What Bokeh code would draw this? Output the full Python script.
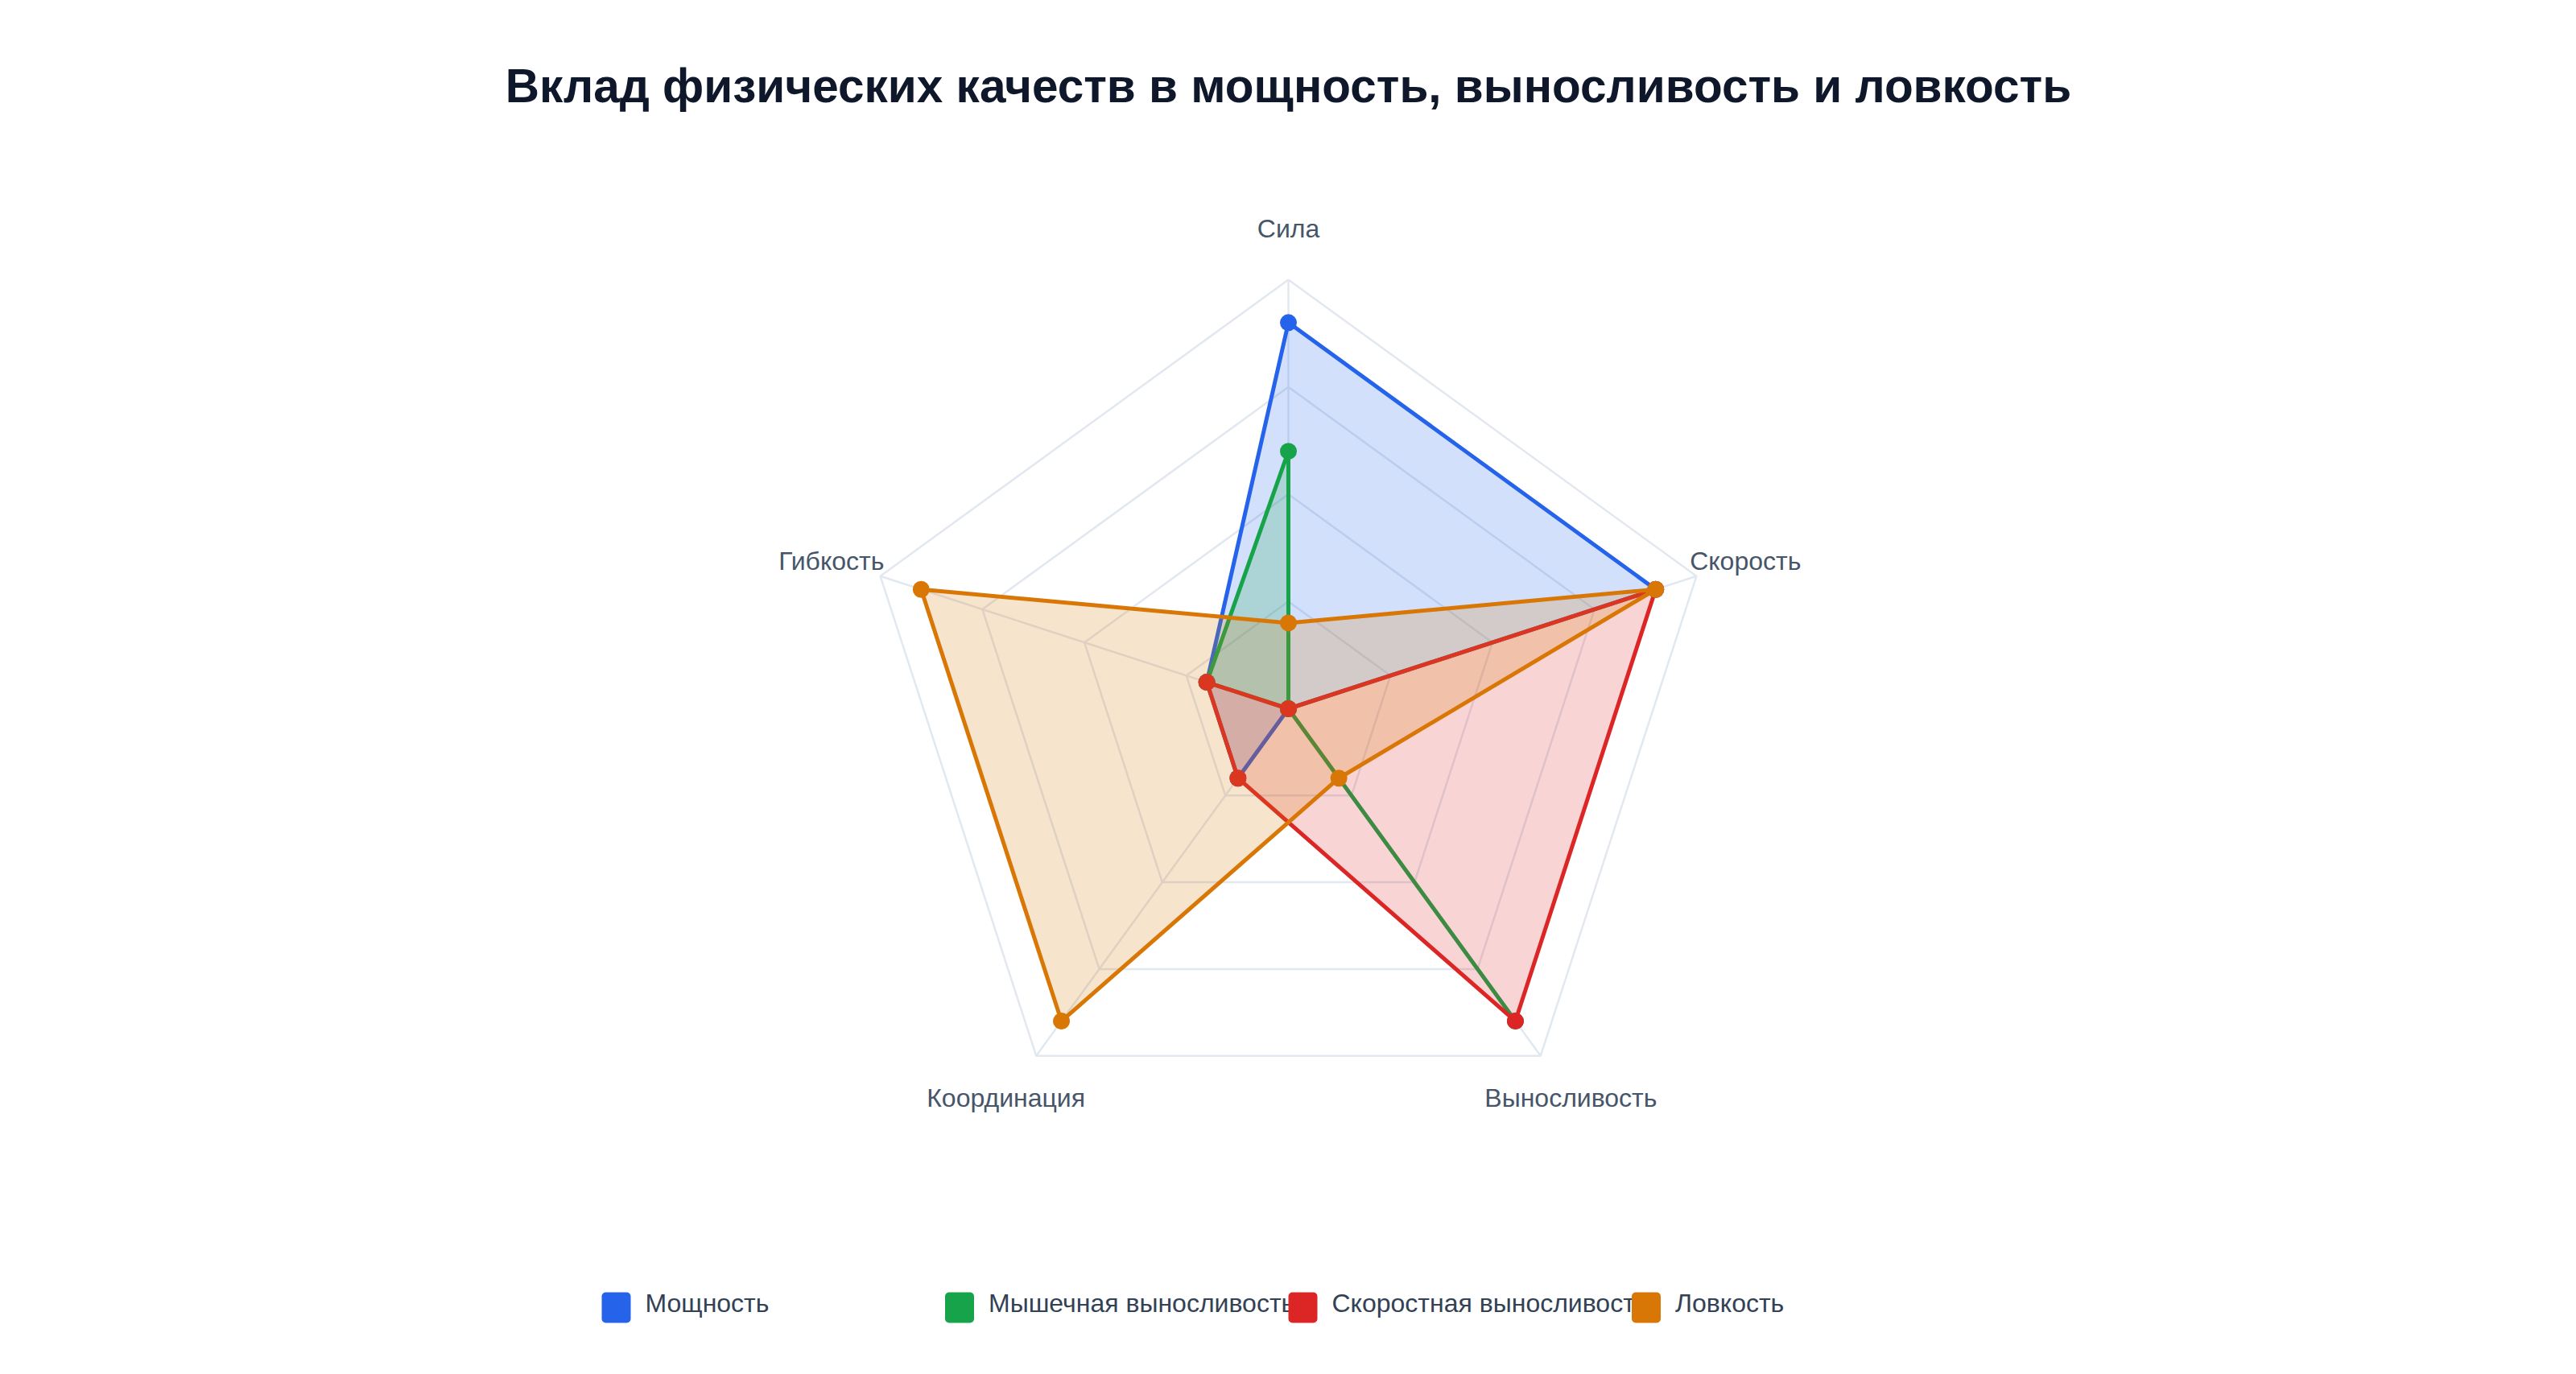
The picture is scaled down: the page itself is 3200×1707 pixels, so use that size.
import math
from bokeh.plotting import figure
from bokeh.models import Range1d
from bokeh.core.properties import value
from bokeh.embed import file_html
from bokeh.resources import INLINE

# ---------------- data ----------------
title_text = "Вклад физических качеств в мощность, выносливость и ловкость"
categories = ["Сила", "Скорость", "Выносливость", "Координация", "Гибкость"]
series_names = ["Мощность", "Мышечная выносливость", "Скоростная выносливость", "Ловкость"]
power = [9, 9, 0, 2, 2]
muscular_endurance = [6, 0, 9, 0, 2]
speed_endurance = [0, 9, 9, 2, 2]
agility = [2, 9, 2, 9, 9]
series_values = [power, muscular_endurance, speed_endurance, agility]
colors = ["#2563eb", "#16a34a", "#dc2626", "#d97706"]
ring_levels = [2.5, 5, 7.5, 10]
max_value = 10

# ---------------- layout (screen px) ----------------
W, H = 3184, 1691
ORIGIN = 0          # canvas top-left on the page
CX, CY = 1600, 880
R_PX = 533
k = R_PX / max_value
FONT = "Liberation Sans"
BASE_FIX = 0.35     # empirical baseline correction (em)


def to_data(X, Y):
    return (X - CX) / k, (CY - Y) / k


x0, _ = to_data(ORIGIN, 0)
x1, _ = to_data(ORIGIN + W, 0)
_, y1 = to_data(0, ORIGIN)
_, y0 = to_data(0, ORIGIN + H)

p = figure(width=W, height=H, x_range=Range1d(x0, x1), y_range=Range1d(y0, y1),
           output_backend="svg", toolbar_location=None, min_border=0,
           x_axis_location=None, y_axis_location=None)
p.grid.visible = False
p.outline_line_color = None
p.background_fill_color = "white"
p.border_fill_color = "white"

n = len(categories)
angles = [math.radians(90 - 360 / n * i) for i in range(n)]

# grid rings and spokes
ring_xs = [[lvl * math.cos(a) for a in angles] + [lvl * math.cos(angles[0])] for lvl in ring_levels]
ring_ys = [[lvl * math.sin(a) for a in angles] + [lvl * math.sin(angles[0])] for lvl in ring_levels]
p.multi_line(ring_xs, ring_ys, line_color="#e2e8f0", line_width=2.5)
spoke_xs = [[0, max_value * math.cos(a)] for a in angles]
spoke_ys = [[0, max_value * math.sin(a)] for a in angles]
p.multi_line(spoke_xs, spoke_ys, line_color="#e2e8f0", line_width=2.5)

# series
for vals, c in zip(series_values, colors):
    xs = [v * math.cos(a) for v, a in zip(vals, angles)]
    ys = [v * math.sin(a) for v, a in zip(vals, angles)]
    p.patch(xs, ys, fill_color=c, fill_alpha=0.2, line_color=None)
    p.line(xs + [xs[0]], ys + [ys[0]], line_color=c, line_width=5, line_join="round")
    p.scatter(xs, ys, size=21, fill_color=c, line_color=None)

# axis labels
LBL = 32
label_r = 11.2
base_off = (12 - BASE_FIX * LBL) / k
p.text(x=[label_r * math.cos(a) for a in angles],
       y=[label_r * math.sin(a) - base_off for a in angles],
       text=categories, text_align="center", text_baseline="alphabetic",
       text_font=value(FONT), text_font_size=f"{LBL}px", text_color="#475569")

# title
TS = 58.5
tx, ty = to_data(1600, 126 - BASE_FIX * TS)
p.text(x=[tx], y=[ty], text=[title_text], text_align="center", text_baseline="alphabetic",
       text_font=value(FONT), text_font_size=f"{TS}px", text_font_style="bold", text_color="#0f172a")

# legend
LS = 32
leg_left0 = 747
leg_step = 426.5
for i, (name, c) in enumerate(zip(series_names, colors)):
    left = leg_left0 + leg_step * i
    sx, sy = to_data(left + 18, 1624)
    p.rect(x=[sx], y=[sy], width=36, height=38, width_units="screen", height_units="screen",
           fill_color=c, line_color=None, border_radius=5)
    lx, ly = to_data(left + 54, 1630 - BASE_FIX * LS)
    p.text(x=[lx], y=[ly], text=[name], text_align="left", text_baseline="alphabetic",
           text_font=value(FONT), text_font_size=f"{LS}px", text_color="#334155")

open("out.html", "w").write(file_html(p, INLINE))
